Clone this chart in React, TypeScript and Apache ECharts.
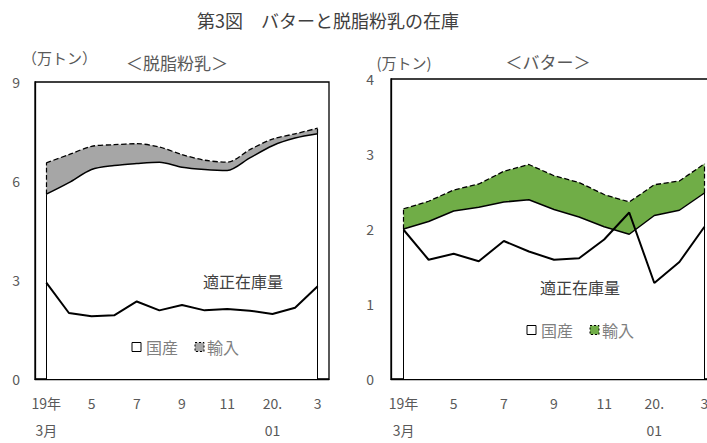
import React, { useEffect, useRef } from "react";
import * as echarts from "echarts";

const months = ["19年\n3月", "4", "5", "6", "7", "8", "9", "10", "11", "12", "20.\n01", "2", "3"];

const smpDomestic = [5.6, 5.95, 6.35, 6.47, 6.53, 6.57, 6.42, 6.35, 6.32, 6.7, 7.07, 7.3, 7.43];
const smpImport = [0.95, 0.85, 0.7, 0.63, 0.6, 0.46, 0.38, 0.28, 0.25, 0.25, 0.2, 0.13, 0.17];
const smpProper = [2.92, 2.0, 1.9, 1.93, 2.35, 2.08, 2.24, 2.08, 2.12, 2.07, 1.97, 2.16, 2.81];

const butterDomestic = [2.0, 2.1, 2.24, 2.29, 2.36, 2.39, 2.26, 2.16, 2.03, 1.93, 2.18, 2.25, 2.48];
const butterImport = [0.27, 0.27, 0.28, 0.31, 0.41, 0.47, 0.45, 0.46, 0.43, 0.43, 0.41, 0.39, 0.39];
const butterProper = [1.99, 1.59, 1.67, 1.57, 1.84, 1.7, 1.59, 1.61, 1.86, 2.22, 1.28, 1.56, 2.03];

const FONT = "'Noto Sans CJK JP', 'Noto Sans', sans-serif";

function edgeLines(dom: number[], imp: number[]) {
  const last = dom.length - 1;
  const solid = { color: "#000", width: 1, type: "solid" as const };
  const dashed = { color: "#000", width: 1.2, type: "dashed" as const };
  return [
    [{ coord: [0, 0], lineStyle: solid }, { coord: [0, dom[0]] }],
    [{ coord: [last, 0], lineStyle: solid }, { coord: [last, dom[last]] }],
    [{ coord: [0, dom[0]], lineStyle: dashed }, { coord: [0, dom[0] + imp[0]] }],
    [{ coord: [last, dom[last]], lineStyle: dashed }, { coord: [last, dom[last] + imp[last]] }],
  ];
}

function makeSeries(idx: number, dom: number[], imp: number[], proper: number[], impColor: string, smooth: number) {
  return [
    {
      name: "国産",
      type: "line",
      xAxisIndex: idx,
      yAxisIndex: idx,
      stack: "s" + idx,
      data: dom,
      smooth,
      symbol: "none",
      lineStyle: { color: "#000", width: 1.5 },
      areaStyle: { color: "#fff", opacity: 1 },
      z: 2,
      markLine: {
        silent: true,
        symbol: ["none", "none"],
        label: { show: false },
        data: edgeLines(dom, imp),
      },
    },
    {
      name: "輸入",
      type: "line",
      xAxisIndex: idx,
      yAxisIndex: idx,
      stack: "s" + idx,
      data: imp,
      smooth,
      symbol: "none",
      lineStyle: { color: "#000", width: 1.3, type: "dashed" },
      areaStyle: { color: impColor, opacity: 1 },
      z: 1,
    },
    {
      name: "適正在庫量",
      type: "line",
      xAxisIndex: idx,
      yAxisIndex: idx,
      data: proper,
      symbol: "none",
      lineStyle: { color: "#000", width: 2 },
      z: 5,
    },
  ];
}

function xAxis(idx: number) {
  return {
    type: "category",
    gridIndex: idx,
    data: months,
    boundaryGap: true,
    axisLine: { lineStyle: { color: "#000", width: 1.3 } },
    axisTick: { show: false },
    axisLabel: {
      interval: 1,
      color: "#595959",
      fontSize: 14,
      fontFamily: FONT,
      lineHeight: 27,
      margin: 10,
    },
  };
}

function yAxis(idx: number, max: number, interval: number, margin: number) {
  return {
    type: "value",
    gridIndex: idx,
    min: 0,
    max,
    interval,
    axisLine: { show: true, lineStyle: { color: "#000", width: 1.3 } },
    axisTick: { show: false },
    splitLine: { show: false },
    axisLabel: { color: "#595959", fontSize: 14, fontFamily: FONT, margin },
  };
}

function legend(x: number, y: number, impColor: string) {
  return [
    { type: "rect", z: 100, shape: { x, y: y - 4.5, width: 9, height: 9 }, style: { fill: "#fff", stroke: "#000", lineWidth: 1 } },
    { type: "text", z: 100, x: x + 14, y, style: { text: "国産", fontSize: 16, fontFamily: FONT, fill: "#7f7f7f", textVerticalAlign: "middle" } },
    { type: "rect", z: 100, shape: { x: x + 63, y: y - 4.5, width: 9, height: 9 }, style: { fill: impColor, stroke: "#000", lineWidth: 1, lineDash: [2, 2] } },
    { type: "text", z: 100, x: x + 75, y, style: { text: "輸入", fontSize: 16, fontFamily: FONT, fill: "#7f7f7f", textVerticalAlign: "middle" } },
  ];
}

function txt(text: string, x: number, y: number, size: number, color: string, align = "left") {
  return {
    type: "text",
    z: 100,
    x,
    y,
    style: { text, fontSize: size, fontFamily: FONT, fill: color, textAlign: align, textVerticalAlign: "middle" },
  };
}

export default function App() {
  const ref = useRef<HTMLDivElement>(null);
  useEffect(() => {
    if (!ref.current) return;
    const chart = echarts.init(ref.current, undefined, { renderer: "svg" });
    chart.setOption({
      animation: false,
      backgroundColor: "#fff",
      grid: [
        { left: 35, top: 82, width: 294, height: 299, show: true, borderColor: "#000", borderWidth: 1.3, backgroundColor: "transparent" },
        { left: 391, top: 79, width: 326, height: 302, show: true, borderColor: "#000", borderWidth: 1.3, backgroundColor: "transparent" },
      ],
      xAxis: [xAxis(0), xAxis(1)],
      yAxis: [yAxis(0, 9, 3, 15), yAxis(1, 4, 1, 17)],
      series: [
        ...makeSeries(0, smpDomestic, smpImport, smpProper, "#a6a6a6", 0.3),
        ...makeSeries(1, butterDomestic, butterImport, butterProper, "#70ad47", 0),
      ],
      graphic: [
        txt("第3図　バターと脱脂粉乳の在庫", 328, 20, 18, "#404040", "center"),
        txt("（万トン）", 22, 57, 15, "#595959"),
        txt("＜脱脂粉乳＞", 177, 62, 17, "#595959", "center"),
        txt("(万トン)", 404, 62, 15, "#595959", "center"),
        txt("＜バター＞", 548, 61, 17, "#595959", "center"),
        txt("適正在庫量", 203, 281, 16, "#404040"),
        txt("適正在庫量", 540, 287, 16, "#404040"),
        ...legend(132, 347, "#a6a6a6"),
        ...legend(527, 330, "#70ad47"),
      ],
    });
    return () => chart.dispose();
  }, []);
  return (
    <div style={{ position: "absolute", left: 0, top: 0, width: 707, height: 443, overflow: "hidden" }}>
      <div ref={ref} style={{ width: 740, height: 443 }} />
    </div>
  );
}
